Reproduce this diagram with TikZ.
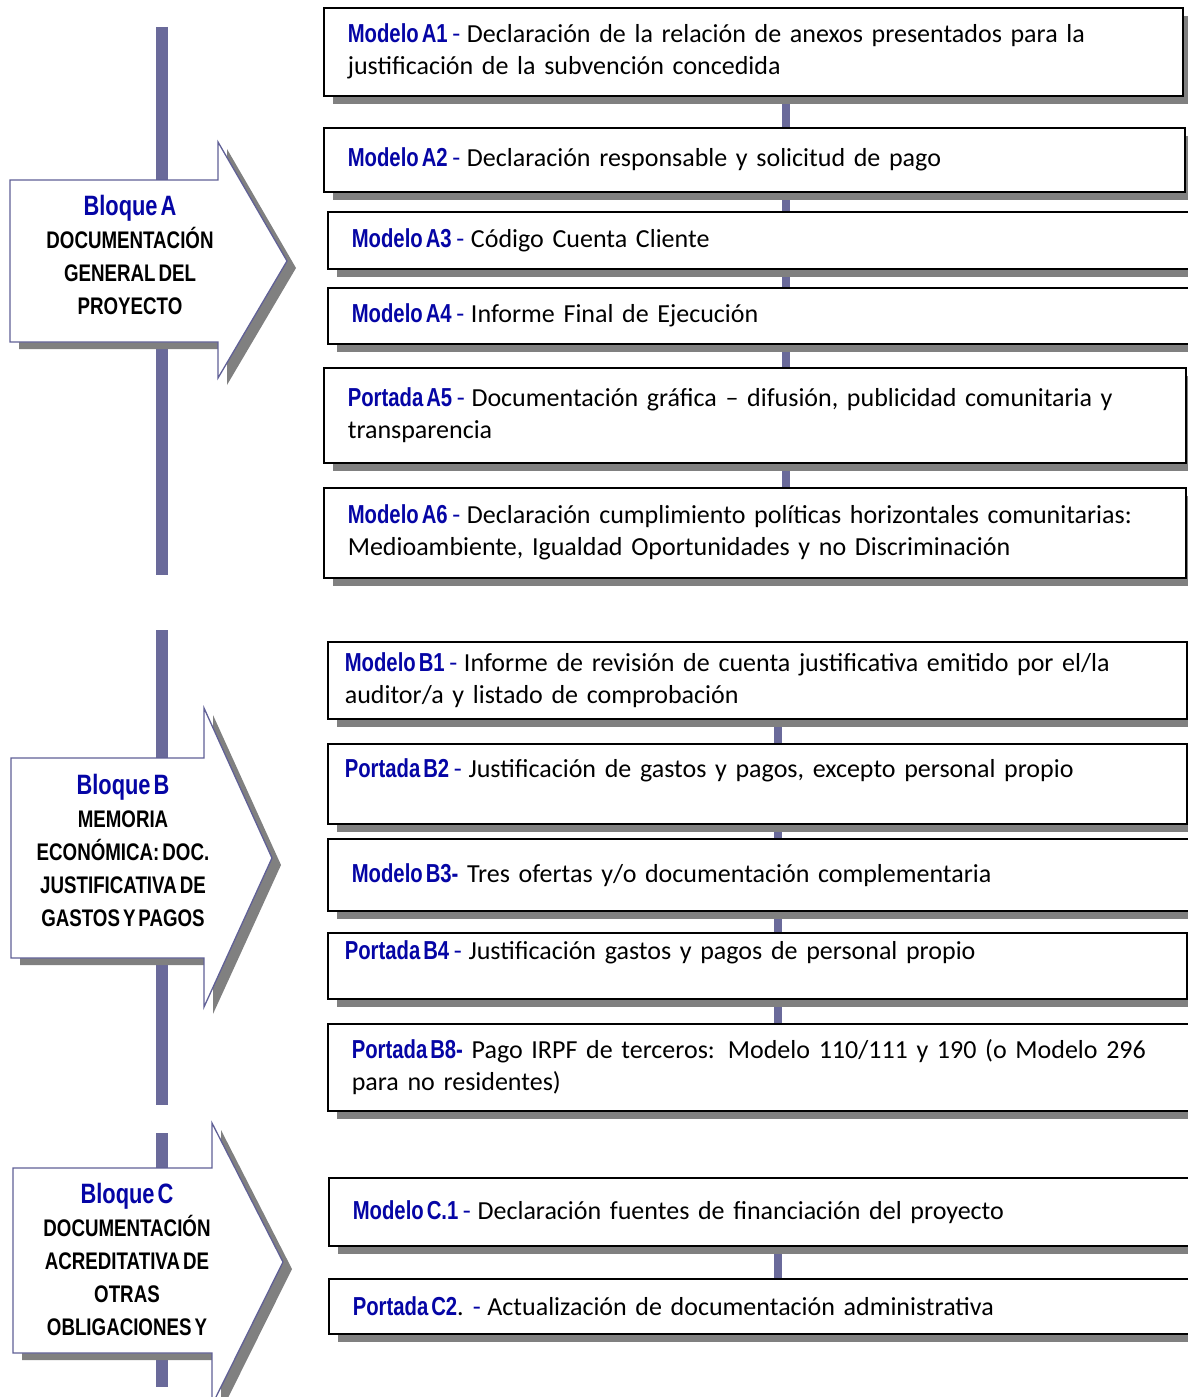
\documentclass[tikz,border=0pt]{standalone}
\usepackage{fontspec}
\setmainfont[WordSpace={0.7,0.3,0.3}]{Carlito}
\newfontfamily\lblfont[FakeStretch=0.78]{Liberation Sans}
\usepackage{tikz}
\tikzset{>=latex}
\usetikzlibrary{calc,positioning,shadows,backgrounds}

\definecolor{barblue}{RGB}{106,106,154}
\definecolor{docblue}{RGB}{5,5,165}
\definecolor{shadowgray}{RGB}{128,128,128}
\definecolor{arrowline}{RGB}{96,96,150}

\newcommand{\tightsp}{\spaceskip=3pt\relax}
\newcommand{\doclbl}[1]{{\lblfont\bfseries\color{docblue}\tightsp #1}}
\newcommand{\bdash}{\hspace{-4pt}{\color{docblue}-}\hspace{-2pt}}
\newcommand{\blktitle}[1]{{\color{docblue}\fontsize{28}{33}\selectfont #1}}

\tikzset{
  docbox/.style={draw=black, line width=1.6pt, fill=white, anchor=north west,
    inner xsep=24pt, inner ysep=0pt, align=left, text width=814pt,
    font=\fontsize{26}{32}\selectfont,
    drop shadow={shadow xshift=9pt, shadow yshift=-8pt, opacity=1, fill=shadowgray}},
  narrowpad/.style={inner xsep=17pt, text width=825pt},
  blockarrow/.style={draw=arrowline, line width=1.3pt, fill=white, line join=miter,
    drop shadow={shadow xshift=9pt, shadow yshift=-7pt, opacity=1, fill=shadowgray}},
  blocktext/.style={align=center, text width=220pt, inner sep=0pt,
    font=\fontsize{24}{33}\selectfont\lblfont\bfseries},
  barline/.style={draw=barblue, line width=12pt},
  connline/.style={draw=barblue, line width=8pt}
}

\begin{document}
\begin{tikzpicture}[x=1pt,y=-1pt]
\useasboundingbox (0,0) rectangle (1187,1397);

% left bars
\coordinate (bar1top) at (162,27);
\coordinate (bar1bot) at (162,575);
\coordinate (bar2top) at (162,630);
\coordinate (bar2bot) at (162,1105);
\coordinate (bar3top) at (162,1133);
\coordinate (bar3bot) at (162,1387);
\draw[barline] (bar1top) -- (bar1bot);
\draw[barline] (bar2top) -- (bar2bot);
\draw[barline] (bar3top) -- (bar3bot);

% block arrows
\draw[blockarrow] (10,180) -- (218,180) -- (218,142) -- (287,261) -- (218,378) -- (218,342) -- (10,342) -- cycle;
\draw[blockarrow] (11,758) -- (204,758) -- (204,708) -- (272,858) -- (204,1007) -- (204,958) -- (11,958) -- cycle;
\draw[blockarrow] (13,1168) -- (212,1168) -- (212,1123) -- (283,1262) -- (212,1405) -- (212,1353) -- (13,1353) -- cycle;

\node[blocktext] (bqa) at (130,255) {\tightsp\blktitle{Bloque A}\\DOCUMENTACIÓN\\GENERAL DEL\\PROYECTO};
\node[blocktext] (bqb) at (123,850) {\tightsp\blktitle{Bloque B}\\MEMORIA\\ECONÓMICA: DOC.\\JUSTIFICATIVA DE\\GASTOS Y PAGOS};
\node[blocktext] (bqc) at (127,1259) {\tightsp\blktitle{Bloque C}\\DOCUMENTACIÓN\\ACREDITATIVA DE\\OTRAS\\OBLIGACIONES Y};

% bloque A
\node[docbox, minimum height=88pt, text width=811pt] (a1) at (323,7)
  {\doclbl{Modelo A1} \bdash{} Declaración de la relación de anexos presentados para la\\justificación de la subvención concedida};
\node[docbox, minimum height=64pt, text width=813pt] (a2) at (323,127)
  {\doclbl{Modelo A2} \bdash{} Declaración responsable y solicitud de pago};
\node[docbox, minimum height=57pt] (a3) at (327,211)
  {\doclbl{Modelo A3} \bdash{} Código Cuenta Cliente};
\node[docbox, minimum height=56pt] (a4) at (327,287)
  {\doclbl{Modelo A4} \bdash{} Informe Final de Ejecución};
\node[docbox, minimum height=95pt] (a5) at (323,367)
  {\doclbl{Portada A5} \bdash{} Documentación gráfica – difusión, publicidad comunitaria y\\transparencia};
\node[docbox, minimum height=90pt] (a6) at (323,487)
  {\doclbl{Modelo A6} \bdash{} Declaración cumplimiento políticas horizontales comunitarias:\\Medioambiente, Igualdad Oportunidades y no Discriminación};

% bloque B
\node[docbox, narrowpad, minimum height=77pt] (b1) at (327,641)
  {\doclbl{Modelo B1} \bdash{} Informe de revisión de cuenta justificativa emitido por el/la\\auditor/a y listado de comprobación};
\node[docbox, narrowpad, minimum height=80pt] (b2) at (327,743)
  {\doclbl{Portada B2} \bdash{} Justificación de gastos y pagos, excepto personal propio\\~};
\node[docbox, minimum height=72pt] (b3) at (327,838)
  {\doclbl{Modelo B3-} Tres ofertas y/o documentación complementaria};
\node[docbox, narrowpad, minimum height=66pt] (b4) at (327,932)
  {\doclbl{Portada B4} \bdash{} Justificación gastos y pagos de personal propio\\~};
\node[docbox, minimum height=87pt] (b8) at (327,1023)
  {\doclbl{Portada B8-} Pago IRPF de terceros: Modelo 110/111 y 190 (o Modelo 296\\para no residentes)};

% bloque C
\node[docbox, minimum height=68pt] (c1) at (328,1177)
  {\doclbl{Modelo C.1} \bdash{} Declaración fuentes de financiación del proyecto};
\node[docbox, minimum height=55pt] (c2) at (328,1278)
  {\doclbl{Portada C2}. \bdash{} Actualización de documentación administrativa};

% connectors
\coordinate (cxa) at (786,0);
\coordinate (cxb) at (778,0);
\begin{pgfonlayer}{background}
\foreach \u/\l/\c in {a1/a2/cxa,a2/a3/cxa,a3/a4/cxa,a4/a5/cxa,a5/a6/cxa,b1/b2/cxb,b2/b3/cxb,b3/b4/cxb,b4/b8/cxb,c1/c2/cxb}
  \draw[connline] (\u.south -| \c) -- (\l.north -| \c);
\end{pgfonlayer}
\end{tikzpicture}
\end{document}
